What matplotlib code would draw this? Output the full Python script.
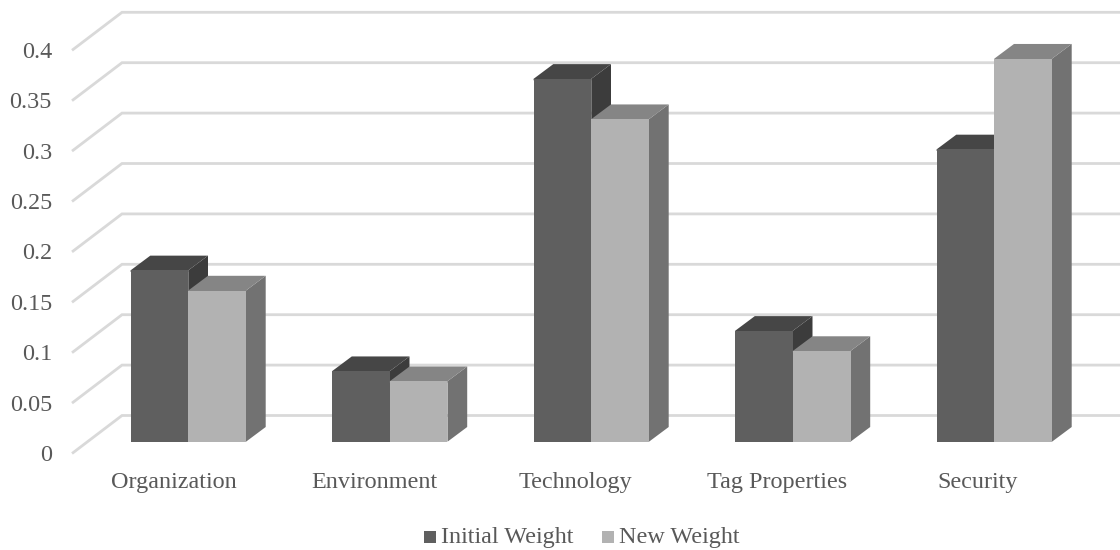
import matplotlib
matplotlib.use("Agg")
import matplotlib.pyplot as plt
from matplotlib.patches import Polygon, Rectangle
from matplotlib.transforms import Affine2D

categories = ["Organization", "Environment", "Technology", "Tag Properties", "Security"]
initial_weight = [0.17, 0.07, 0.36, 0.11, 0.29]
new_weight = [0.15, 0.06, 0.32, 0.09, 0.38]
y_ticks = [0, 0.05, 0.1, 0.15, 0.2, 0.25, 0.3, 0.35, 0.4]
y_tick_labels = ["0", "0.05", "0.1", "0.15", "0.2", "0.25", "0.3", "0.35", "0.4"]
series_names = ["Initial Weight", "New Weight"]

W, H = 1120, 550
PX_PER_CAT = 201.5
PX_PER_UNIT = 1008.0
CAT0_X = 188.3
BASE_Y = 441.7

BAR_W = 57.7 / PX_PER_CAT
DEPTH_X = 19.7 / PX_PER_CAT
DEPTH_Y = 14.7 / PX_PER_UNIT
SEAM = 1.5 / PX_PER_UNIT
GRID_FRONT_X = (72 - CAT0_X) / PX_PER_CAT
GRID_FRONT_Y = -11.8 / PX_PER_UNIT
GRID_BACK_DX = 50 / PX_PER_CAT
GRID_BACK_DY = 38 / PX_PER_UNIT

TEXT = "#595959"
GRID = "#d9d9d9"
FONT_SIZE = 17.4
# front, top and side faces of each series
FACES = [("#5f5f5f", "#464646", "#3c3c3c"), ("#b2b2b2", "#858585", "#727272")]

plt.rcParams["font.family"] = ["Liberation Serif", "DejaVu Serif"]

fig = plt.figure(figsize=(W / 100, H / 100), dpi=100, facecolor="white")
ax = fig.add_axes([0, 0, 1, 1])
ax.set_xlim(-CAT0_X / PX_PER_CAT, (W - CAT0_X) / PX_PER_CAT)
ax.set_ylim((BASE_Y - H) / PX_PER_UNIT, BASE_Y / PX_PER_UNIT)
ax.axis("off")

# Gridlines run from the front edge of the floor to the back wall
right = ax.get_xlim()[1]
for v, label in zip(y_ticks, y_tick_labels):
    fy = v + GRID_FRONT_Y
    by = fy + GRID_BACK_DY
    ax.plot([GRID_FRONT_X, GRID_FRONT_X + GRID_BACK_DX, right], [fy, by, by],
            color=GRID, lw=2.0, solid_joinstyle="miter", solid_capstyle="butt", zorder=1)
    ax.text(GRID_FRONT_X - 20 / PX_PER_CAT, fy - 7.5 / PX_PER_UNIT, label, ha="right", va="baseline",
            fontsize=FONT_SIZE, color=TEXT)


def draw_bar(x, v, faces, z):
    front, top, side = faces
    dx, dy = DEPTH_X, DEPTH_Y
    ax.add_patch(Polygon([(x + BAR_W, 0), (x + BAR_W + dx, dy), (x + BAR_W + dx, v + dy), (x + BAR_W, v)],
                         closed=True, fc=side, ec="none", zorder=z))
    # The top face runs a little under the front face so no seam shows between them
    ax.add_patch(Polygon([(x, v - SEAM), (x, v), (x + dx, v + dy), (x + BAR_W + dx, v + dy),
                          (x + BAR_W, v), (x + BAR_W, v - SEAM)],
                         closed=True, fc=top, ec="none", zorder=z))
    ax.add_patch(Rectangle((x, 0), BAR_W, v, fc=front, ec="none", zorder=z + 0.1))


for i, cat in enumerate(categories):
    draw_bar(i - BAR_W, initial_weight[i], FACES[0], 2 + i * 0.01)
    draw_bar(i, new_weight[i], FACES[1], 3 + i * 0.01)
    label_x = (173.9 + 201.0 * i - CAT0_X) / PX_PER_CAT
    ax.text(label_x, (BASE_Y - 488) / PX_PER_UNIT, cat, ha="center", va="baseline",
            fontsize=FONT_SIZE, color=TEXT)

# Legend placed in pixel coordinates, measured from the top left
px = Affine2D().scale(1, -1).translate(0, H)
for name, (sx, tx), faces in zip(series_names, [(424, 441), (602, 619)], FACES):
    fig.add_artist(Rectangle((sx, 531), 12, 12, fc=faces[0], ec="none", transform=px))
    fig.text(tx, H - 543, name, transform=Affine2D(), ha="left", va="baseline",
             fontsize=FONT_SIZE, color=TEXT)

fig.savefig("out.png", dpi=100, facecolor="white")
